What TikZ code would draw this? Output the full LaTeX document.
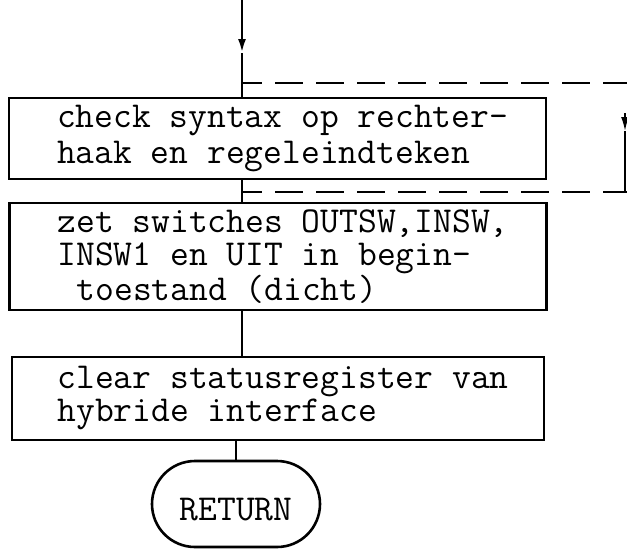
\documentclass[tikz,border=0pt]{standalone}
\usepackage{fontspec}
\usetikzlibrary{arrows.meta,positioning,shapes.misc}
\newcommand{\tw}[1]{\ttfamily\fontsize{36.5}{#1}\selectfont\spaceskip=\fontdimen2\font\relax}
\tikzset{
  box/.style={rectangle,draw,line width=2.6pt,align=flush left,text width=441pt,inner xsep=0pt,inner ysep=0pt,minimum width=537pt,font=\tw{34}},
  term/.style={rounded rectangle,draw,line width=2.6pt,minimum width=168pt,minimum height=86pt,inner sep=0pt,text height=32pt,text depth=0pt,font=\tw{34}},
  flow/.style={line width=2.6pt},
  loopln/.style={line width=1.8pt},
  dashln/.style={line width=1.8pt,dash pattern=on 28pt off 13pt,dash phase=8pt},
  tip/.style={-{Latex[length=14pt,width=8pt]}},
}

\begin{document}
\begin{tikzpicture}[x=1pt,y=-1pt]
  \useasboundingbox (0,0) rectangle (627,550);
  % boxes
  \node[box,minimum height=81pt,font=\tw{35.5}] (b1) at (277.5,138.5){check~syntax~op~rechter-\\haak~en~regeleindteken};
  \node[box,minimum height=107pt,font=\tw{33}] (b2) at (278,256.5){zet~switches~OUTSW,INSW,\\INSW1~en~UIT~in~begin-\\\hspace*{0.525em}toestand~(dicht)};
  \node[box,minimum height=83pt,minimum width=532pt,font=\tw{33}] (b3) at (278,398.5){clear~statusregister~van\\hybride~interface};
  \node[term] (ret) at (236,504){RETURN};
  % ingang en terugkoppeling
  \coordinate (in) at (242,0);
  \coordinate (inarr) at (242,53);
  \coordinate (jt) at (242,83);
  \coordinate (jb) at (242,192);
  \coordinate (rt) at (627,83);
  \coordinate (rb) at (627,192);
  \coordinate (lp) at (625,113);
  \coordinate (lparr) at (625,131);
  \coordinate (lpend) at (625,192);
  \draw[flow,tip] (in) -- (inarr);
  \draw[flow] (inarr) -- (in |- b1.north);
  \draw[dashln] (jt) -- (rt);
  \draw[dashln] (jb) -- (rb);
  \draw[loopln,tip] (lp) -- (lparr);
  \draw[loopln] (lparr) -- (lpend);
  % verbindingen
  \draw[flow] (in |- b1.south) -- (in |- b2.north);
  \draw[flow] (in |- b2.south) -- (in |- b3.north);
  \draw[flow] (ret.north |- b3.south) -- (ret.north);
\end{tikzpicture}
\end{document}
